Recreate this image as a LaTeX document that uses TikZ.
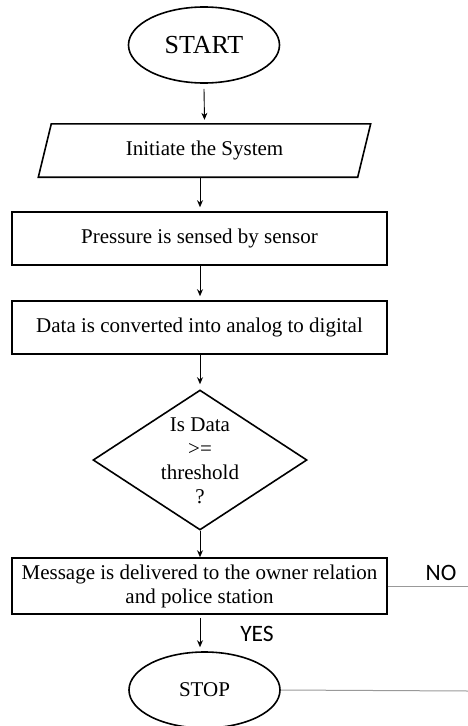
\documentclass[tikz,border=0pt]{standalone}
\usepackage{fontspec}
\setmainfont{Liberation Serif}
\newfontfamily\labelfont{Carlito}
\usetikzlibrary{shapes.geometric,arrows.meta}
\tikzset{
  txt/.style={font=\fontsize{21}{24}\selectfont},
  box/.style={draw, line width=1.6pt, rectangle, minimum width=375pt, inner sep=0pt, align=center, txt},
  term/.style={draw, line width=1.6pt, ellipse, minimum width=151pt, minimum height=76pt, inner sep=0pt},
  arr/.style={line width=0.9pt, -{Stealth[length=7pt,width=6pt]}},
  side/.style={line width=1pt, gray!80},
  lbl/.style={font=\labelfont\fontsize{23.5}{26}\selectfont, inner sep=0pt}
}
\begin{document}
\begin{tikzpicture}[x=1pt,y=-1pt]
\useasboundingbox (0,0) rectangle (468,726);
\node[term, font=\fontsize{26}{28}\selectfont] (start) at (204,45) {START};
\node[minimum width=319pt, minimum height=53pt, inner sep=0pt, txt] (init) at (204.5,150.5) {Initiate the System};
\draw[line width=1.6pt] ([xshift=6.5pt]init.north west) -- ([xshift=6.5pt]init.north east) -- ([xshift=-6.5pt]init.south east) -- ([xshift=-6.5pt]init.south west) -- cycle;
\node[box, minimum height=53pt] (sense) at (199.5,238.5) {Pressure is sensed by sensor};
\node[box, minimum height=53pt] (conv) at (199.5,327.5) {Data is converted into analog to digital};
\node[diamond, draw, line width=1.6pt, minimum width=214pt, minimum height=140pt, inner sep=0pt] (dec) at (200,460) {};
\node[align=center, txt, inner sep=0pt] (dtext) at (200,461) {Is Data\\>=\\threshold\\?};
\node[box, minimum height=56pt] (msg) at (199.5,586) {Message is delivered to the owner relation\\and police station};
\node[term, font=\fontsize{21}{24}\selectfont] (stop) at (204.5,690) {STOP};
\coordinate (noend) at (468,586);
\coordinate (stopend) at (468,691);
\node[lbl] (no) at (441,573) {NO};
\node[lbl] (yes) at (257,634) {YES};
\draw[arr] ([yshift=-5pt]start.south) -- ([yshift=4pt]init.north);
\draw[arr] ([xshift=-4.5pt]init.south) -- ([xshift=0.5pt,yshift=4pt]sense.north);
\draw[arr] ([xshift=0.5pt]sense.south) -- ([xshift=0.5pt,yshift=4pt]conv.north);
\draw[arr] ([xshift=0.5pt]conv.south) -- ([yshift=5pt]dec.north);
\draw[arr] (dec.south) -- ([xshift=0.5pt]msg.north);
\draw[arr] ([xshift=0.5pt,yshift=-3pt]msg.south) -- ([xshift=-4.5pt,yshift=4pt]stop.north);
\draw[side] (msg.east) -- (noend);
\draw[side] (stop.east) -- (stopend);
\end{tikzpicture}
\end{document}
